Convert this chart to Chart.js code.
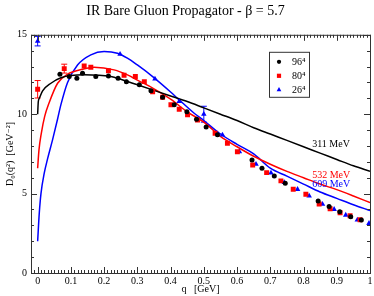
<!DOCTYPE html>
<html>
<head>
<meta charset="utf-8">
<script src="https://cdn.jsdelivr.net/npm/chart.js@4.4.1/dist/chart.umd.min.js"></script>
<style>
  html, body { margin: 0; padding: 0; background: #fff; }
  #wrap { width: 374px; height: 296px; }
</style>
</head>
<body>
<div id="wrap"><canvas id="c" width="374" height="296"></canvas></div>
<script>
// lattice data: q [GeV], D(q^2) [GeV^-2], error
const q96 = [0.067, 0.095, 0.118, 0.135, 0.175, 0.213, 0.242, 0.267, 0.306, 0.341, 0.376, 0.411, 0.449, 0.478, 0.507, 0.541, 0.645, 0.675, 0.712, 0.745, 0.844, 0.877, 0.909, 0.942, 0.974];
const d96 = [12.52, 12.37, 12.27, 12.58, 12.37, 12.41, 12.27, 12.05, 11.85, 11.47, 11.07, 10.59, 10.16, 9.68, 9.2, 8.7, 7.12, 6.6, 6.11, 5.65, 4.54, 4.18, 3.86, 3.55, 3.34];
const e96 = [0.15, 0.12, 0.12, 0.12, 0.1, 0.1, 0.1, 0.1, 0.1, 0.1, 0.1, 0.1, 0.1, 0.1, 0.1, 0.1, 0.08, 0.08, 0.08, 0.08, 0.08, 0.08, 0.08, 0.08, 0.08];

const q80 = [0, 0.08, 0.14, 0.16, 0.213, 0.26, 0.294, 0.321, 0.346, 0.376, 0.401, 0.426, 0.451, 0.481, 0.534, 0.571, 0.601, 0.647, 0.689, 0.732, 0.769, 0.807, 0.847, 0.88, 0.91, 0.94, 0.97];
const d80 = [11.57, 12.87, 13.04, 12.96, 12.73, 12.45, 12.37, 12.05, 11.42, 11.07, 10.59, 10.31, 9.96, 9.64, 8.8, 8.17, 7.64, 6.8, 6.32, 5.8, 5.27, 4.96, 4.35, 4.05, 3.8, 3.6, 3.35];
const e80 = [0.55, 0.28, 0.15, 0.12, 0.15, 0.15, 0.12, 0.1, 0.1, 0.1, 0.1, 0.1, 0.1, 0.1, 0.1, 0.1, 0.08, 0.08, 0.08, 0.08, 0.08, 0.08, 0.08, 0.08, 0.08, 0.08, 0.08];

const q26 = [0, 0.248, 0.353, 0.426, 0.5, 0.556, 0.607, 0.657, 0.702, 0.742, 0.782, 0.817, 0.857, 0.892, 0.927, 0.962, 0.997];
const d26 = [14.6, 13.78, 12.22, 10.8, 10.0, 8.7, 7.64, 6.85, 6.3, 5.71, 5.27, 4.85, 4.33, 4.01, 3.65, 3.34, 3.13];
const e26 = [0.3, 0.1, 0.15, 0.2, 0.5, 0.1, 0.1, 0.08, 0.08, 0.08, 0.08, 0.08, 0.08, 0.08, 0.08, 0.08, 0.08];

// fit curves
const fitQ311 = [0, 0.002, 0.005, 0.015, 0.04, 0.07, 0.14, 0.22, 0.25, 0.3, 0.35, 0.4, 0.45, 0.5, 0.55, 0.6, 0.65, 0.7, 0.75, 0.8, 0.85, 0.9, 0.95, 1.0];
const fitD311 = [10.0, 10.8, 11.0, 11.47, 11.95, 12.3, 12.48, 12.37, 12.2, 11.85, 11.5, 11.15, 10.8, 10.4, 10.0, 9.6, 9.15, 8.75, 8.35, 7.95, 7.55, 7.15, 6.75, 6.4];

const fitQ532 = [0, 0.004, 0.011, 0.021, 0.034, 0.06, 0.09, 0.135, 0.17, 0.23, 0.27, 0.3, 0.35, 0.4, 0.45, 0.5, 0.55, 0.6, 0.65, 0.7, 0.75, 0.8, 0.85, 0.9, 0.95, 1.0];
const fitD532 = [6.6, 7.75, 8.8, 9.85, 10.69, 11.95, 12.52, 12.83, 12.96, 12.79, 12.48, 12.15, 11.6, 10.95, 10.15, 9.5, 8.6, 7.95, 7.35, 6.85, 6.4, 6.0, 5.6, 5.25, 4.85, 4.43];

const fitQ609 = [0, 0.005, 0.01, 0.02, 0.03, 0.045, 0.06, 0.07, 0.09, 0.12, 0.16, 0.2, 0.24, 0.27, 0.3, 0.346, 0.4, 0.426, 0.471, 0.5, 0.547, 0.6, 0.65, 0.7, 0.75, 0.8, 0.85, 0.9, 0.95, 1.0];
const fitD609 = [2.0, 3.8, 5.0, 6.3, 7.2, 8.4, 9.7, 10.6, 12.0, 13.1, 13.74, 13.95, 13.84, 13.53, 13.1, 12.37, 11.4, 10.9, 10.06, 9.6, 8.8, 8.1, 7.5, 6.6, 6.1, 5.6, 5.1, 4.7, 4.3, 3.93];

const seriesNames = ['96\u2074', '80\u2074', '26\u2074'];
const fitNames = ['311 MeV', '532 MeV', '609 MeV'];
const colors = ['#000000', '#ff0000', '#0000ff'];

const serif = "'Liberation Serif', 'DejaVu Serif', serif";

const pts = (xs, ys) => xs.map((x, i) => ({ x: x, y: ys[i] }));

const errBars = [e96, e80, e26];

const framePlugin = {
  id: 'frame',
  beforeDatasetsDraw(chart) {
    // error bars under the markers
    const ctx = chart.ctx, xs = chart.scales.x, ys = chart.scales.y;
    ctx.save();
    ctx.lineWidth = 1;
    chart.data.datasets.forEach((ds, di) => {
      if (ds.errIndex === undefined) return;
      const err = errBars[ds.errIndex];
      ctx.strokeStyle = ds.borderColor;
      ds.data.forEach((p, i) => {
        const px = xs.getPixelForValue(p.x);
        const y1 = ys.getPixelForValue(p.y + err[i]);
        const y2 = ys.getPixelForValue(p.y - err[i]);
        if (y2 - y1 < 7) return;
        ctx.beginPath();
        ctx.moveTo(px, y1); ctx.lineTo(px, y2);
        ctx.moveTo(px - 3, y1); ctx.lineTo(px + 3, y1);
        ctx.moveTo(px - 3, y2); ctx.lineTo(px + 3, y2);
        ctx.stroke();
      });
    });
    ctx.restore();
  },
  afterDraw(chart) {
    const ctx = chart.ctx, a = chart.chartArea;
    const xs = chart.scales.x, ys = chart.scales.y;
    ctx.save();
    ctx.strokeStyle = '#333';
    ctx.lineWidth = 1;
    ctx.strokeRect(a.left + 0.5, a.top + 0.5, a.right - a.left, a.bottom - a.top);
    ctx.beginPath();
    for (let k = -2; k <= 100; k++) {
      const v = k / 100;
      const px = Math.round(xs.getPixelForValue(v)) + 0.5;
      const len = k % 10 === 0 ? 6 : 3;
      ctx.moveTo(px, a.bottom); ctx.lineTo(px, a.bottom - len);
      ctx.moveTo(px, a.top); ctx.lineTo(px, a.top + len);
    }
    for (let k = 0; k <= 15; k++) {
      const py = Math.round(ys.getPixelForValue(k)) + 0.5;
      const len = k % 5 === 0 ? 6 : 3;
      ctx.moveTo(a.left, py); ctx.lineTo(a.left + len, py);
      ctx.moveTo(a.right, py); ctx.lineTo(a.right - len, py);
    }
    ctx.stroke();

    // legend box
    const lx = a.left + 238, ly = a.top + 17;
    ctx.fillStyle = '#fff';
    ctx.fillRect(lx, ly, 40, 45);
    ctx.strokeRect(lx + 0.5, ly + 0.5, 40, 45);
    const mk = chart.data.datasets.filter(d => d.errIndex !== undefined);
    mk.forEach((ds, i) => {
      const cy = ly + 10 + i * 14;
      ctx.fillStyle = ds.backgroundColor;
      ctx.strokeStyle = ds.borderColor;
      Chart.helpers.drawPoint(ctx, { pointStyle: ds.pointStyle, radius: ds.pointRadius * 0.85, borderWidth: 0 }, lx + 10, cy);
      ctx.fillStyle = '#000';
      ctx.font = '10px ' + serif;
      ctx.textBaseline = 'middle';
      ctx.textAlign = 'left';
      ctx.fillText(seriesNames[i], lx + 23, cy + 1);
    });

    // fit labels
    ctx.font = '10px ' + serif;
    ctx.textBaseline = 'middle';
    ctx.textAlign = 'left';
    const labelAt = [[0.826, 8.07], [0.826, 6.17], [0.826, 5.6]];
    fitNames.forEach((t, i) => {
      ctx.fillStyle = colors[i];
      ctx.fillText(t, xs.getPixelForValue(labelAt[i][0]), ys.getPixelForValue(labelAt[i][1]));
    });
    ctx.restore();
  }
};

const lineDs = (xs, ys, c) => ({
  type: 'line', data: pts(xs, ys), borderColor: c, backgroundColor: c,
  borderWidth: 1.5, pointRadius: 0, showLine: true, fill: false,
  cubicInterpolationMode: 'monotone', order: 2
});
const ptDs = (xs, ys, c, style, r, ei) => ({
  type: 'scatter', data: pts(xs, ys), borderColor: c, backgroundColor: c,
  pointStyle: style, pointRadius: r, pointBorderWidth: 0, showLine: false,
  errIndex: ei, order: 1
});

new Chart(document.getElementById('c'), {
  type: 'scatter',
  data: {
    datasets: [
      lineDs(fitQ311, fitD311, colors[0]),
      lineDs(fitQ532, fitD532, colors[1]),
      lineDs(fitQ609, fitD609, colors[2]),
      ptDs(q96, d96, colors[0], 'circle', 2.5, 0),
      ptDs(q80, d80, colors[1], 'rect', 3.5, 1),
      ptDs(q26, d26, colors[2], 'triangle', 3.2, 2)
    ]
  },
  plugins: [framePlugin],
  options: {
    responsive: false,
    animation: false,
    layout: { padding: { left: 0, right: 3, top: 0, bottom: 0 } },
    plugins: {
      legend: { display: false },
      tooltip: { enabled: false },
      title: {
        display: true,
        text: 'IR Bare Gluon Propagator - \u03b2 = 5.7',
        color: '#000',
        font: { family: serif, size: 14, weight: 'normal' },
        padding: { top: 3, bottom: 15 }
      }
    },
    scales: {
      x: {
        type: 'linear', min: -0.02, max: 1,
        grid: { display: false, drawTicks: false },
        border: { display: false },
        ticks: {
          stepSize: 0.1, includeBounds: false, padding: 2, color: '#000',
          font: { family: serif, size: 10 }, maxRotation: 0,
          callback: v => String(+v.toFixed(2))
        },
        title: { display: true, text: 'q   [GeV]', color: '#000', font: { family: serif, size: 10 }, padding: { top: 0, bottom: 1 } },
        afterFit(s) { s.height = 23; s.paddingLeft = 0; s.paddingRight = 0; }
      },
      y: {
        min: 0, max: 15,
        grid: { display: false, drawTicks: false },
        border: { display: false },
        ticks: { stepSize: 5, padding: 4, color: '#000', font: { family: serif, size: 10 } },
        title: { display: true, text: 'D\u2080(q\u00b2)  [GeV\u207b\u00b2]', color: '#000', font: { family: serif, size: 10 }, padding: { top: 4, bottom: 0 } },
        afterFit(s) { s.width = 31; s.paddingTop = 0; s.paddingBottom = 0; }
      }
    }
  }
});
</script>
</body>
</html>
